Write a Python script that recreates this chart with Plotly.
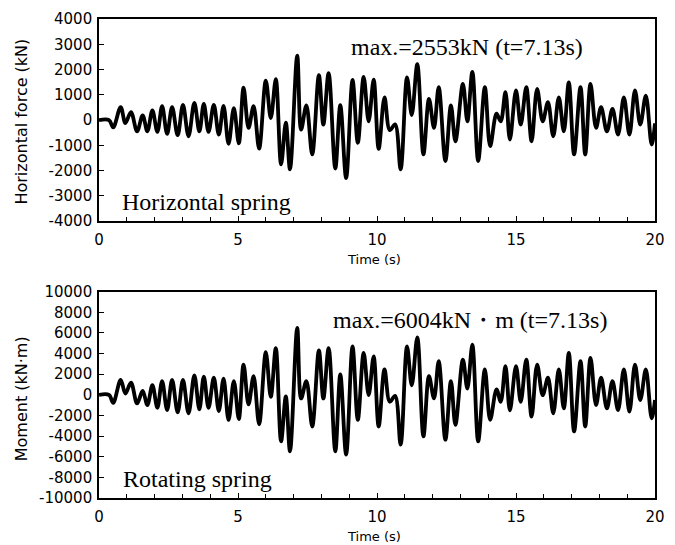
import plotly.graph_objects as go

# ---------------- data ----------------
time_s = [0, 0.36, 0.51, 0.78, 0.95, 1.15, 1.37, 1.57, 1.74, 1.92, 2.10, 2.27, 2.45, 2.63, 2.83,
          3.02, 3.22, 3.43, 3.61, 3.77, 3.94, 4.13, 4.31, 4.48, 4.66, 4.85, 5.03, 5.20, 5.38,
          5.56, 5.76, 6.00, 6.18, 6.36, 6.55, 6.72, 6.87, 7.13, 7.27, 7.46, 7.67, 7.91, 8.07,
          8.26, 8.50, 8.68, 8.89, 9.12, 9.31, 9.52, 9.70, 9.88, 10.06, 10.27, 10.46, 10.65,
          10.85, 11.08, 11.25, 11.45, 11.67, 11.87, 12.05, 12.22, 12.46, 12.66, 12.82, 13.09,
          13.25, 13.43, 13.64, 13.88, 14.07, 14.30, 14.45, 14.62, 14.78, 15.00, 15.17, 15.37,
          15.56, 15.76, 15.96, 16.15, 16.34, 16.54, 16.72, 16.90, 17.09, 17.32, 17.49, 17.68,
          17.88, 18.06, 18.27, 18.47, 18.67, 18.88, 19.08, 19.28, 19.47, 19.67, 19.88, 20.0]

horizontal_force_kN = [0, 0, -290, 510, -120, 315, -445, 185, -445, 380, -470, 550, -550, 510, -600,
                       600, -640, 680, -450, 640, -470, 600, -580, 560, -940, 470, -920, 1280, -310,
                       550, -1130, 1560, 80, 1620, -1750, -100, -1950, 2553, -380, 580, -1360, 1780, -180,
                       1860, -1920, 590, -2300, 1590, -900, 1710, -50, 1600, -1140, 900, -400, -170,
                       -1950, 1690, 200, 2210, -1360, 840, -310, 1300, -1620, 580, -840, 1430,
                       -50, 1910, -1620, 1300, -1030, 250, -50, 1100, -770, 1170, -180, 1300,
                       -840, 1230, -50, 710, -640, 900, -450, 1490, -1360, 1300, -1360, 1430,
                       -310, 510, -450, 445, -575, 900, -575, 1170, -180, 970, -970, -130]

moment_kNm = [0, 0, -770, 1440, 130, 1180, -830, 380, -990, 930, -1250, 1340, -1470, 1440, -1700,
              1440, -1790, 1890, -1400, 1760, -1250, 1660, -1570, 1570, -2430, 1340, -2340, 2940, -930,
              1820, -2850, 4130, -190, 4540, -4510, -160, -5470, 6500, -350, 1340, -3070, 4320, -350,
              4540, -5470, 1980, -5790, 4700, -2430, 4060, -30, 3740, -3070, 2460, -670, -100,
              -4830, 4700, 930, 5570, -4030, 1820, -350, 3260, -4350, 1340, -2910, 3420,
              610, 4860, -4510, 2460, -2430, 540, -670, 2780, -1500, 2780, -670, 3420,
              -2110, 2940, -30, 1660, -1790, 2460, -1310, 4060, -3550, 3260, -3070, 3580,
              -990, 1660, -1310, 1340, -1470, 2460, -1630, 2940, -510, 2460, -2270, -500]

force_ticks = [4000, 3000, 2000, 1000, 0, -1000, -2000, -3000, -4000]
force_tick_text = ["4000", "3000", "2000", "1000", "0", "-1000", "-2000", "-3000", "-4000"]
moment_ticks = [10000, 8000, 6000, 4000, 2000, 0, -2000, -4000, -6000, -8000, -10000]
moment_tick_text = ["10000", "8000", "6000", "4000", "2000", "0", "-2000", "-4000", "-6000",
                    "-8000", "-10000"]
time_ticks = [0, 5, 10, 15, 20]
time_tick_text = ["0", "5", "10", "15", "20"]

# ---------------- figure ----------------
W, H = 675, 545
L, R, T, B = 99, 10, 15, 47
pw, ph = W - L - R, H - T - B

def px(x):
    return (x - L) / pw

def py(y):
    return (H - B - y) / ph

line_style = dict(color="black", width=3.8, shape="spline", smoothing=1.0)

fig = go.Figure()
fig.add_trace(go.Scatter(x=time_s, y=horizontal_force_kN, mode="lines", line=line_style,
                         xaxis="x", yaxis="y", showlegend=False, hoverinfo="skip"))
fig.add_trace(go.Scatter(x=time_s, y=moment_kNm, mode="lines", line=line_style,
                         xaxis="x2", yaxis="y2", showlegend=False, hoverinfo="skip"))

tick_font = dict(family="DejaVu Sans", size=15, color="black")

def xaxis_cfg(anchor):
    return dict(range=[0, 20], anchor=anchor, domain=[0, 1],
                tickmode="array", tickvals=time_ticks, ticktext=time_tick_text,
                ticks="inside", ticklen=5, tickwidth=1.2, tickcolor="black",
                minor=dict(dtick=1, tick0=0, ticks="inside", ticklen=4, tickcolor="black", tickwidth=1),
                showline=True, linecolor="black", linewidth=1.6, mirror=True,
                showgrid=False, zeroline=False, tickfont=tick_font, ticklabelstandoff=4)

def yaxis_cfg(anchor, rng, vals, text, dom):
    return dict(range=rng, anchor=anchor, domain=dom,
                tickmode="array", tickvals=vals, ticktext=text,
                ticks="inside", ticklen=5, tickwidth=1.2, tickcolor="black",
                showline=True, linecolor="black", linewidth=1.6, mirror=True,
                showgrid=False, zeroline=False, tickfont=tick_font, ticklabelstandoff=2)

top_dom = [py(218.8), 1.0]
bot_dom = [0.0, py(290)]

fig.update_layout(
    width=W, height=H,
    margin=dict(l=L, r=R, t=T, b=B, pad=0),
    paper_bgcolor="white", plot_bgcolor="white",
    xaxis=xaxis_cfg("y"),
    yaxis=yaxis_cfg("x", [-4000, 4000], force_ticks, force_tick_text, top_dom),
    xaxis2=xaxis_cfg("y2"),
    yaxis2=yaxis_cfg("x2", [-10000, 10000], moment_ticks, moment_tick_text, bot_dom),
)

serif = dict(family="Liberation Serif", size=24, color="black")
sans_title = dict(family="DejaVu Sans", size=16, color="black")
sans_x = dict(family="DejaVu Sans", size=13, color="black")

annots = [
    dict(text="max.=2553kN (t=7.13s)", x=px(354), y=py(43), xanchor="left", yanchor="middle", font=serif),
    dict(text="Horizontal spring", x=px(120), y=py(200), xanchor="left", yanchor="middle", font=serif),
    dict(text="max.=6004kN・m (t=7.13s)", x=px(335), y=py(319), xanchor="left", yanchor="middle", font=serif),
    dict(text="Rotating spring", x=px(121), y=py(479), xanchor="left", yanchor="middle", font=serif),
    dict(text="Horizontal force (kN)", x=px(20), y=py(118), xanchor="center", yanchor="middle",
         textangle=-90, font=sans_title),
    dict(text="Moment (kN·m)", x=px(20), y=py(398), xanchor="center", yanchor="middle",
         textangle=-90, font=sans_title),
    dict(text="Time (s)", x=px(379), y=py(258), xanchor="center", yanchor="middle", font=sans_x),
    dict(text="Time (s)", x=px(379), y=py(537), xanchor="center", yanchor="middle", font=sans_x),
]
for a in annots:
    a.update(xref="paper", yref="paper", showarrow=False)
fig.update_layout(annotations=annots)

fig.write_html("out.html")
